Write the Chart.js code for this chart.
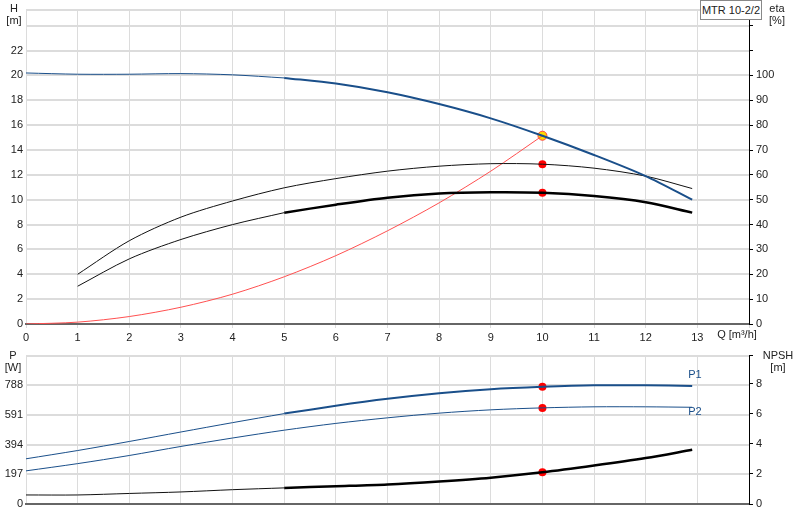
<!DOCTYPE html>
<html><head><meta charset="utf-8">
<script src="https://cdn.jsdelivr.net/npm/chart.js@4"></script>
<style>
body{margin:0;background:#fff;font-family:"Liberation Sans",Arial,sans-serif;}
#w{position:relative;width:800px;height:520px;}
canvas{position:absolute;left:0;}
.t{position:absolute;font-size:11px;color:#222;line-height:12px;text-align:center;}
</style></head><body><div id="w">
<canvas id="c1" style="top:0" width="800" height="346"></canvas>
<canvas id="c2" style="top:346px" width="800" height="174"></canvas>
<div class="t" style="left:6px;top:2px;width:16px">H<br>[m]</div>
<div class="t" style="left:762px;top:2px;width:30px">eta<br>[%]</div>
<div class="t" style="left:700px;top:0px;width:60px;height:18px;border:1px solid #888;line-height:18px;background:#fff">MTR 10-2/2</div>
<div class="t" style="left:712px;top:328px;width:50px">Q [m³/h]</div>
<div class="t" style="left:2px;top:349px;width:22px">P<br>[W]</div>
<div class="t" style="left:760px;top:349px;width:36px">NPSH<br>[m]</div>
<div class="t" style="left:683px;top:368px;width:24px;color:#1a4f8a">P1</div>
<div class="t" style="left:683px;top:405px;width:24px;color:#1a4f8a">P2</div>
</div>
<script>
const Q = [0,1,2,3,4,5,6,7,8,9,10,11,12,12.9];
const H = [20.2,20.1,20.1,20.15,20.05,19.8,19.35,18.65,17.7,16.55,15.15,13.6,11.9,10.0];
const etaUpper = [null,20,33.5,43,49.5,54.8,58.5,61.5,63.5,64.5,64.3,62.7,59.5,54.5];
const etaLower = [null,15.2,26.2,34,40,44.8,48,50.8,52.5,53,52.8,51.5,49,44.8];
const system = [0,0.15,0.6,1.35,2.4,3.8,5.5,7.5,9.75,12.3,15.15];
const P1 = [300,355,415,478,540,600,652,698,735,762,778,788,788,783];
const P2 = [220,268,322,382,438,490,535,572,603,625,638,645,645,642];
const NPSH = [0.6,0.6,0.7,0.8,0.95,1.07,1.18,1.3,1.5,1.75,2.1,2.55,3.05,3.6];
const dutyQ = 10;

const pts=(xs,ys,from,to)=>xs.map((x,i)=>({x,y:ys[i]})).filter(p=>p.y!==null&&p.x>=from&&p.x<=to);
const C='#1a4f8a';
function ds(data,color,w,axis){return {data,borderColor:color,borderWidth:w,pointRadius:0,tension:0.3,yAxisID:axis,fill:false};}
const fontT={family:'"Liberation Sans",Arial,sans-serif',size:11};
const gridC='#dcdcdc';
function fixW(w){return function(s){s.width=w;};}
function fixH(h){return function(s){s.height=h;};}
const at=(arr,x)=>arr[Q.indexOf(x)];

new Chart(document.getElementById('c1'),{type:'line',data:{datasets:[
 ds(pts(Q,H,0,5),C,1,'y'),ds(pts(Q,H,5,13),C,2,'y'),
 ds(pts(Q,etaUpper,0,13),'#111',1,'y2'),
 ds(pts(Q,etaLower,0,5),'#111',1,'y2'),ds(pts(Q,etaLower,5,13),'#000',2.5,'y2'),
 ds(pts(Q.slice(0,11),system,0,10),'#ff5050',1,'y'),
 {type:'scatter',data:[{x:dutyQ,y:at(etaUpper,dutyQ)},{x:dutyQ,y:at(etaLower,dutyQ)}],yAxisID:'y2',pointRadius:4,backgroundColor:'#f00',borderWidth:0},
 {type:'scatter',data:[{x:dutyQ,y:at(H,dutyQ)}],yAxisID:'y',pointRadius:4.5,backgroundColor:'#ffd800',borderColor:'#f44',borderWidth:1}
]},options:{responsive:false,animation:false,layout:{padding:{top:0,bottom:0,left:0,right:0}},plugins:{legend:{display:false},tooltip:{enabled:false}},
scales:{
 x:{type:'linear',min:0,max:14,ticks:{stepSize:1,color:'#222',font:fontT,callback:v=>v<=13?v:''},grid:{color:gridC,tickLength:4},border:{color:'#666',width:2},afterFit:fixH(22)},
 y:{position:'left',min:0,max:25.3,ticks:{stepSize:2,color:'#222',font:fontT,callback:v=>v<=22?v:''},grid:{color:gridC,lineWidth:2,drawTicks:false},border:{display:false},afterFit:fixW(26)},
 y2:{position:'right',min:0,max:126.5,ticks:{stepSize:10,color:'#222',font:fontT,callback:v=>v<=100?v:''},grid:{drawOnChartArea:false,tickLength:4,color:'#000'},border:{color:'#000'},afterFit:fixW(51)}
}}});

new Chart(document.getElementById('c2'),{type:'line',data:{datasets:[
 ds(pts(Q,P1,0,5),C,1,'y'),ds(pts(Q,P1,5,13),C,2,'y'),
 ds(pts(Q,P2,0,13),C,1,'y'),
 ds(pts(Q,NPSH,0,5),'#111',1,'y2'),ds(pts(Q,NPSH,5,13),'#000',2.5,'y2'),
 {type:'scatter',data:[{x:dutyQ,y:at(P1,dutyQ)},{x:dutyQ,y:at(P2,dutyQ)}],yAxisID:'y',pointRadius:4,backgroundColor:'#f00',borderWidth:0},
 {type:'scatter',data:[{x:dutyQ,y:at(NPSH,dutyQ)}],yAxisID:'y2',pointRadius:4,backgroundColor:'#f00',borderWidth:0}
]},options:{responsive:false,animation:false,layout:{padding:{top:0,bottom:0,left:0,right:0}},plugins:{legend:{display:false},tooltip:{enabled:false}},
scales:{
 x:{type:'linear',min:0,max:14,ticks:{stepSize:1,display:false},grid:{color:gridC,drawTicks:false},border:{color:'#666',width:2},afterFit:fixH(16)},
 y:{position:'left',min:0,max:985,ticks:{stepSize:200,color:'#222',font:fontT,callback:v=>v<=800?v:''},grid:{color:gridC,lineWidth:2,drawTicks:false},border:{display:false},afterFit:fixW(26)},
 y2:{position:'right',min:0,max:9.85,ticks:{stepSize:2,color:'#222',font:fontT,callback:v=>v<=8?v:''},grid:{drawOnChartArea:false,tickLength:4,color:'#000'},border:{color:'#000'},afterFit:fixW(51)}
}}});
</script></body></html>
